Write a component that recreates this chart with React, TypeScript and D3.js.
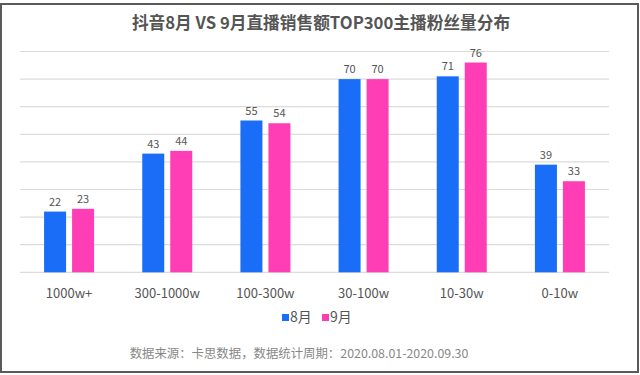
import React from "react";
import * as d3 from "d3";

const categories = ["1000w+", "300-1000w", "100-300w", "30-100w", "10-30w", "0-10w"];
const augValues = [22, 43, 55, 70, 71, 39];
const sepValues = [23, 44, 54, 70, 76, 33];
const seriesNames = ["8月", "9月"];
const yTicks = [0, 10, 20, 30, 40, 50, 60, 70, 80];
const title = "抖音8月 VS 9月直播销售额TOP300主播粉丝量分布";
const source = "数据来源：卡思数据，数据统计周期：2020.08.01-2020.09.30";

const BLUE = "#1A6DF6";
const PINK = "#FF3DB4";
const FONT = "'Noto Sans CJK SC', 'Open Sans', sans-serif";

export default function App() {
  const W = 640, H = 375;
  const x = d3.scaleBand<string>().domain(categories).range([20, 609]);
  const y = d3.scaleLinear().domain([0, 80]).range([272.3, 51.5]);
  const bw = 22, gap = 6;
  const series = [
    { name: seriesNames[0], values: augValues, color: BLUE, off: -gap / 2 - bw },
    { name: seriesNames[1], values: sepValues, color: PINK, off: gap / 2 },
  ];
  return (
    <svg width={W} height={H} style={{ position: "fixed", left: 0, top: 0, background: "#fff" }} fontFamily={FONT}>
      <rect x={1} y={4} width={637} height={368} fill="#fff" stroke="#5a5a5a" strokeWidth={2} />
      <text x={321} y={29} textAnchor="middle" fontSize={16.7} fontWeight="bold" fill="#555">{title}</text>
      {yTicks.map((t) => (
        <line key={t} x1={20} x2={609} y1={y(t)} y2={y(t)} stroke="#dcdcdc" strokeWidth={1.2} />
      ))}
      {series.map((s) =>
        categories.map((c, i) => {
          const cx = (x(c) as number) + x.bandwidth() / 2;
          const v = s.values[i];
          return (
            <g key={s.name + c}>
              <rect x={cx + s.off} y={y(v)} width={bw} height={y(0) - y(v)} fill={s.color} />
              <text x={cx + s.off + bw / 2} y={y(v) - 6} textAnchor="middle" fontSize={11} fill="#555">{v}</text>
            </g>
          );
        })
      )}
      {categories.map((c) => (
        <text key={c} x={(x(c) as number) + x.bandwidth() / 2} y={298} textAnchor="middle" fontSize={13} fill="#555">{c}</text>
      ))}
      <g>
        <rect x={282} y={314} width={7} height={7} fill={BLUE} />
        <text x={290} y={322} fontSize={14} fill="#555">{seriesNames[0]}</text>
        <rect x={322} y={314} width={7} height={7} fill={PINK} />
        <text x={330} y={322} fontSize={14} fill="#555">{seriesNames[1]}</text>
      </g>
      <text x={299} y={358} textAnchor="middle" fontSize={12.4} fill="#888">{source}</text>
    </svg>
  );
}
